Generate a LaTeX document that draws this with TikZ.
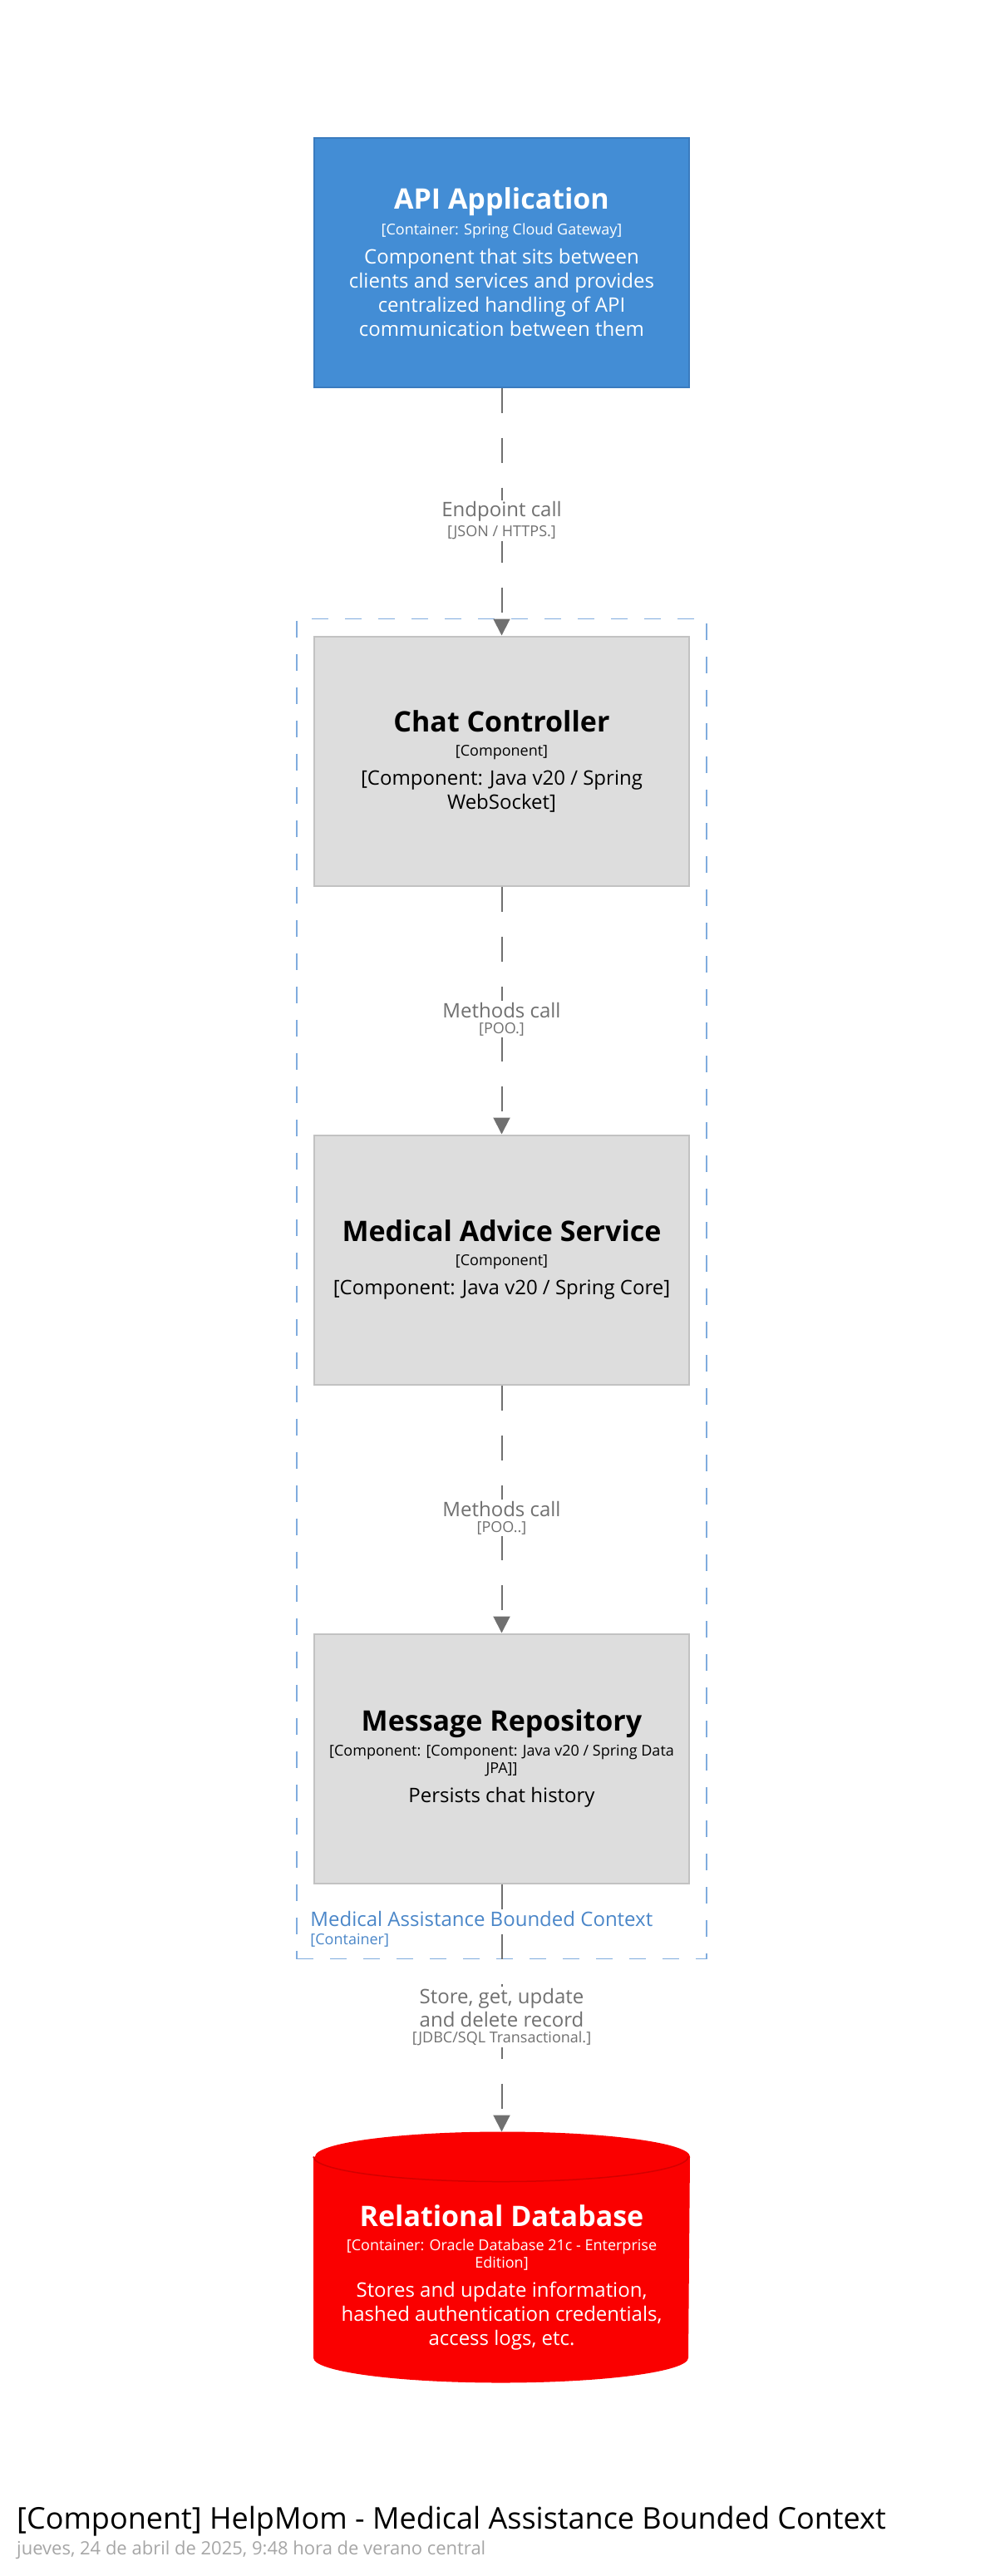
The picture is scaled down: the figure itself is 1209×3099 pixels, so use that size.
\documentclass[tikz,border=0pt]{standalone}
\usepackage{fontspec}
\setmainfont{Open Sans}
\usetikzlibrary{positioning,arrows.meta,fit,backgrounds}
\setlength{\parindent}{0pt}
\definecolor{apiblue}{HTML}{438DD5}
\definecolor{apiedge}{HTML}{3A7BBF}
\definecolor{compgrey}{HTML}{DDDDDD}
\definecolor{compedge}{HTML}{C2C2C2}
\definecolor{dbred}{HTML}{FA0000}
\definecolor{dbedge}{HTML}{D40000}
\definecolor{relgrey}{HTML}{707070}
\definecolor{ctxblue}{HTML}{80ACDE}
\definecolor{ctxtext}{HTML}{4A86C8}
\definecolor{dategrey}{HTML}{A6A6A6}
\newcommand{\boxtext}[3]{%
    {\fontsize{34}{40}\selectfont\bfseries #1\par}\vspace{8pt}%
    {\fontsize{18}{21}\selectfont #2\par}\vspace{6pt}%
    {\fontsize{24}{29}\selectfont #3\par}}
\begin{document}
\begin{tikzpicture}[x=1pt, y=-1pt, node distance=298pt,
elem/.style={rectangle, line width=2pt, minimum width=451pt, minimum height=300pt,
    text width=430pt, align=flush center, inner sep=0pt},
container/.style={elem, draw=apiedge, fill=apiblue, text=white},
component/.style={elem, draw=compedge, fill=compgrey, text=black},
database/.style={elem, text=white},
boundary/.style={rectangle, draw=ctxblue, line width=1.5pt, dash pattern=on 20pt off 20pt, inner sep=20pt},
rel/.style={draw=relgrey, line width=2pt, dash pattern=on 30pt off 30pt, -{Triangle[width=20pt, length=20pt]}},
rellabel/.style={fill=white, text=relgrey, font=\fontsize{24}{28}\selectfont, align=center, inner xsep=3pt, inner ysep=2pt},
reltech/.style={fill=white, text=relgrey, font=\fontsize{18}{21}\selectfont, inner xsep=3pt, inner ysep=2pt}]
\useasboundingbox (0,0) rectangle (1209,3099);
\node[container] (api) at (603.5,315.5) {\boxtext{API Application}{[Container: Spring Cloud Gateway]}{Component that sits between\\clients and services and provides\\centralized handling of API\\communication between them}};
\node[component, below=of api] (chat) {\boxtext{Chat Controller}{[Component]}{[Component: Java v20 / Spring\\WebSocket]}};
\node[component, below=of chat] (advice) {\boxtext{Medical Advice Service}{[Component]}{[Component: Java v20 / Spring Core]}};
\node[component, below=of advice] (repo) {\boxtext{Message Repository}{[Component: [Component: Java v20 / Spring Data\\JPA]]}{Persists chat history}};
\node[database, below=of repo] (db) {\par\vspace{34pt}\boxtext{Relational Database}{[Container: Oracle Database 21c - Enterprise\\Edition]}{Stores and update information,\\hashed authentication credentials,\\access logs, etc.}};
\begin{scope}[on background layer]
    \fill[dbred] ([yshift=-30pt]db.north west) -- ([yshift=30pt]db.south west)
        arc[start angle=180, end angle=360, x radius=225.5pt, y radius=30pt]
        -- ([yshift=-30pt]db.north east)
        arc[start angle=0, end angle=180, x radius=225.5pt, y radius=30pt] -- cycle;
    \draw[dbedge, line width=1.5pt] ([yshift=-30pt]db.north west)
        arc[start angle=180, end angle=360, x radius=225.5pt, y radius=30pt];
\end{scope}
\coordinate (ctxfoot) at ([yshift=-70pt]repo.south);
\node[boundary, fit=(chat)(repo)(ctxfoot)] (ctx) {};
\node[anchor=south west, text width=450pt, align=flush left, inner sep=0pt, text=ctxtext] (ctxname)
    at ([xshift=17pt, yshift=15pt]ctx.south west)
    {{\fontsize{24}{29}\selectfont Medical Assistance Bounded Context\par}{\fontsize{18}{22}\selectfont [Container]\par}};
\draw[rel] (api) -- (chat) node[midway, rellabel] (lab1) {Endpoint call};
\node[reltech, below=0pt of lab1] (tech1) {[JSON / HTTPS.]};
\draw[rel] (chat) -- (advice) node[midway, rellabel] (lab2) {Methods call};
\node[reltech, below=0pt of lab2] (tech2) {[POO.]};
\draw[rel] (advice) -- (repo) node[midway, rellabel] (lab3) {Methods call};
\node[reltech, below=0pt of lab3] (tech3) {[POO..]};
\draw[rel] (repo) -- (db) node[midway, rellabel] (lab4) {Store, get, update\\and delete record};
\node[reltech, below=0pt of lab4] (tech4) {[JDBC/SQL Transactional.]};
\node[anchor=west, inner sep=0pt, font=\fontsize{36}{43}\selectfont] (title) at (20,3033)
    {[Component] HelpMom - Medical Assistance Bounded Context};
\node[anchor=west, inner sep=0pt, text=dategrey, font=\fontsize{22}{26}\selectfont] (date) at (20,3068)
    {jueves, 24 de abril de 2025, 9:48 hora de verano central};
\end{tikzpicture}
\end{document}
